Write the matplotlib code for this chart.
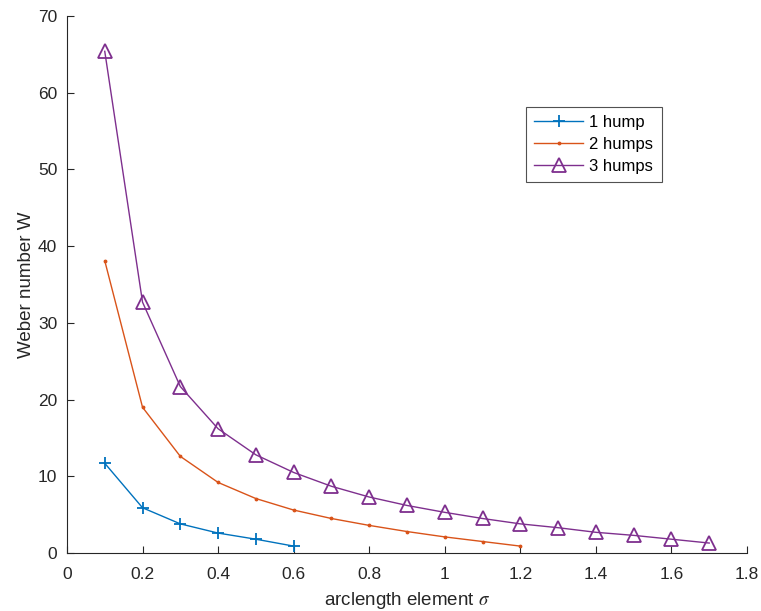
import matplotlib.pyplot as plt

# data
sigma1 = [0.1, 0.2, 0.3, 0.4, 0.5, 0.6]
w1 = [11.7, 5.9, 3.8, 2.6, 1.8, 0.9]

sigma2 = [0.1, 0.2, 0.3, 0.4, 0.5, 0.6, 0.7, 0.8, 0.9, 1.0, 1.1, 1.2]
w2 = [38.1, 19.0, 12.6, 9.2, 7.1, 5.6, 4.5, 3.6, 2.8, 2.1, 1.5, 0.9]

sigma3 = [0.1, 0.2, 0.3, 0.4, 0.5, 0.6, 0.7, 0.8, 0.9, 1.0, 1.1, 1.2,
          1.3, 1.4, 1.5, 1.6, 1.7]
w3 = [65.4, 32.7, 21.7, 16.2, 12.8, 10.5, 8.7, 7.3, 6.2, 5.3, 4.5, 3.8,
      3.3, 2.7, 2.3, 1.8, 1.3]

plt.rcParams['font.family'] = ['Liberation Sans', 'DejaVu Sans']
plt.rcParams['mathtext.fontset'] = 'stix'

fig = plt.figure(figsize=(7.61, 6.11), dpi=100)
ax = fig.add_axes([0.088, 0.0949, 0.8936, 0.8789])

ax.plot(sigma1, w1, color='#0072BD', lw=1.0, marker='+', ms=9, mew=1.3,
        label='1 hump')
ax.plot(sigma2, w2, color='#D95319', lw=1.0, marker='.', ms=3.5,
        label='2 humps')
ax.plot(sigma3, w3, color='#7E2F8E', lw=1.0, marker='^', ms=10, mew=1.3,
        mfc='none', label='3 humps')

ax.set_xlim(0, 1.8)
ax.set_ylim(0, 70)
ax.set_xticks([0, 0.2, 0.4, 0.6, 0.8, 1, 1.2, 1.4, 1.6, 1.8])
ax.set_xticklabels(['0', '0.2', '0.4', '0.6', '0.8', '1', '1.2', '1.4', '1.6', '1.8'])
ax.set_yticks(range(0, 71, 10))

for s in ['top', 'right']:
    ax.spines[s].set_visible(False)
for s in ['left', 'bottom']:
    ax.spines[s].set_color('#262626')
    ax.spines[s].set_linewidth(0.8)
ax.tick_params(direction='in', length=5, width=0.8, colors='#262626',
               labelsize=12.5)
ax.tick_params(axis='x', pad=10)
ax.tick_params(axis='y', pad=7)

ax.set_xlabel(r'arclength element $\sigma$', fontsize=13.5, color='#262626',
              labelpad=6)
ax.set_ylabel('Weber number W', fontsize=13.5, color='#262626', labelpad=2)

leg = ax.legend(loc='upper left', bbox_to_anchor=(0.663, 0.847), fontsize=12,
                frameon=True, fancybox=False, edgecolor='#262626',
                handlelength=2.9, borderpad=0.5, labelspacing=0.42,
                handletextpad=0.4)
leg.get_frame().set_linewidth(0.8)

plt.savefig('out.png', dpi=100)
